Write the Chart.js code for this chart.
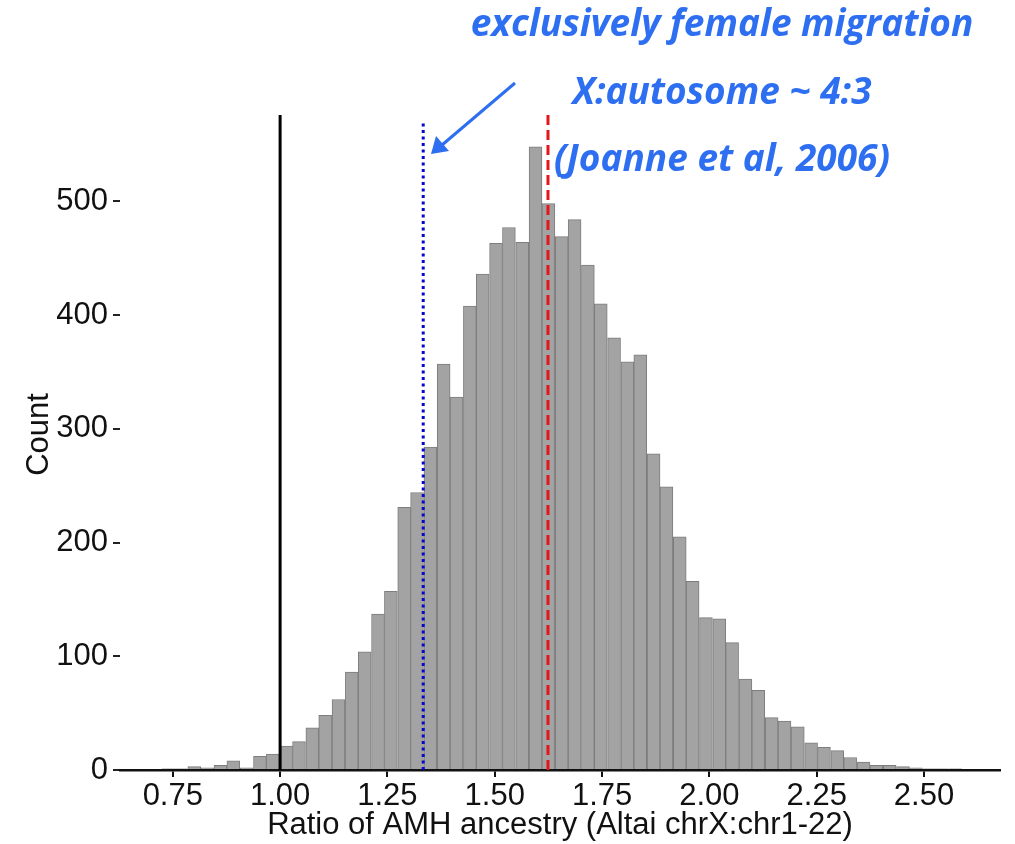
<!DOCTYPE html>
<html>
<head>
<meta charset="utf-8">
<script src="https://cdn.jsdelivr.net/npm/chart.js@4/dist/chart.umd.min.js"></script>
<style>
  html, body { margin: 0; padding: 0; background: #fff; }
  #wrap { width: 1015px; height: 844px; }
</style>
</head>
<body>
<div id="wrap"><canvas id="hist" width="1015" height="844"></canvas></div>
<script>
// histogram bin centres (bin width ~0.0306)
var binCenters = [
	0.739, 0.769, 0.800, 0.830, 0.861, 0.891, 0.922, 0.953, 0.983,
	1.014, 1.044, 1.075, 1.105, 1.136, 1.167, 1.197, 1.228, 1.258, 1.289, 1.319,
	1.350, 1.381, 1.411, 1.442, 1.472, 1.503, 1.533, 1.564, 1.595, 1.625,
	1.656, 1.686, 1.717, 1.747, 1.778, 1.809, 1.839, 1.870, 1.900, 1.931,
	1.961, 1.992, 2.023, 2.053, 2.084, 2.114, 2.145, 2.175, 2.206, 2.237,
	2.267, 2.298, 2.328, 2.359, 2.389, 2.420, 2.451, 2.481, 2.512, 2.542, 2.573
];
var counts = [
	1, 1, 3, 2, 4, 8, 2, 12, 14,
	21, 25, 37, 48, 62, 86, 104, 137, 157, 231, 244,
	284, 357, 328, 408, 436, 463, 477, 464, 548, 498,
	469, 484, 444, 410, 380, 359, 365, 278, 249, 205,
	166, 134, 133, 112, 80, 70, 46, 43, 38, 24,
	20, 17, 11, 7, 4, 4, 3, 2, 1, 1, 1
];
var xTicks = [0.75, 1.00, 1.25, 1.50, 1.75, 2.00, 2.25, 2.50];
var yTicks = [0, 100, 200, 300, 400, 500];

// reference lines: x position and top of line (in counts)
var neutralRatio = 1.0, neutralTop = 576;
var femaleRatio = 4 / 3, femaleTop = 571;
var observedRatio = 1.624, observedTop = 576;

var noteLines = ["exclusively female migration", "X:autosome ~ 4:3", "(Joanne et al, 2006)"];

function vline(x, top)
{
	return [{x: x, y: 0}, {x: x, y: top}];
}

var notesPlugin = {
	id: 'notes',
	afterDraw: function(chart) {
		var ctx = chart.ctx;
		ctx.save();
		ctx.fillStyle = '#2d6ff0';
		ctx.strokeStyle = '#2d6ff0';
		ctx.font = 'italic bold 37px "Open Sans"';
		ctx.textAlign = 'center';
		ctx.textBaseline = 'middle';
		var ys = [25, 93, 160];
		for (var i = 0; i < noteLines.length; i++) {
			ctx.fillText(noteLines[i], 722, ys[i]);
		}
		// arrow
		ctx.lineWidth = 3;
		ctx.beginPath();
		ctx.moveTo(515, 83);
		ctx.lineTo(442, 145);
		ctx.stroke();
		ctx.beginPath();
		ctx.moveTo(431, 154);
		ctx.lineTo(436, 136);
		ctx.lineTo(449, 151);
		ctx.closePath();
		ctx.fill();
		ctx.restore();
	}
};

var histData = [];
for (var i = 0; i < binCenters.length; i++) {
	histData.push({x: binCenters[i], y: counts[i]});
}

var axisFont = { family: '"Liberation Sans", Arial', size: 31 };

new Chart(document.getElementById('hist'), {
	type: 'bar',
	data: {
		datasets: [{
			type: 'bar',
			data: histData,
			backgroundColor: '#a3a3a3',
			borderColor: '#7d7d7d',
			borderWidth: 1,
			barPercentage: 1,
			categoryPercentage: 1,
			order: 2
		}, {
			type: 'line',
			data: vline(neutralRatio, neutralTop),
			borderColor: '#000000',
			borderWidth: 3,
			pointRadius: 0,
			order: 0
		}, {
			type: 'line',
			data: vline(femaleRatio, femaleTop),
			borderColor: '#0707c8',
			borderWidth: 3,
			borderDash: [3, 3.5],
			pointRadius: 0,
			order: 0
		}, {
			type: 'line',
			data: vline(observedRatio, observedTop),
			borderColor: '#e3161c',
			borderWidth: 3,
			borderDash: [10, 5],
			pointRadius: 0,
			order: 0
		}]
	},
	options: {
		responsive: false,
		animation: false,
		maintainAspectRatio: false,
		layout: { padding: { top: 99, right: 15, left: 0, bottom: 0 } },
		plugins: {
			legend: { display: false },
			tooltip: { enabled: false }
		},
		scales: {
			x: {
				type: 'linear',
				offset: false,
				min: 0.627,
				max: 2.677,
				afterBuildTicks: function(scale) {
					scale.ticks = xTicks.map(function(v) { return {value: v}; });
				},
				afterFit: function(scale) { scale.height = 74; },
				ticks: {
					callback: function(v) { return v.toFixed(2); },
					font: axisFont,
					color: '#111',
					padding: 1,
					maxRotation: 0,
					autoSkip: false
				},
				grid: {
					offset: false,
					drawOnChartArea: false,
					drawTicks: true,
					tickLength: 7,
					color: '#111',
					lineWidth: 2
				},
				border: { display: true, color: '#111', width: 2.5 },
				title: {
					display: true,
					text: 'Ratio of AMH ancestry (Altai chrX:chr1-22)',
					font: axisFont,
					color: '#111',
					padding: { top: 0, bottom: 0 }
				}
			},
			y: {
				min: 0,
				max: 590,
				afterBuildTicks: function(scale) {
					scale.ticks = yTicks.map(function(v) { return {value: v}; });
				},
				afterFit: function(scale) { scale.width = 120; },
				ticks: {
					font: axisFont,
					color: '#111',
					padding: 5
				},
				grid: {
					drawOnChartArea: false,
					drawTicks: true,
					tickLength: 7,
					color: '#222',
					lineWidth: 2
				},
				border: { display: false },
				title: {
					display: true,
					text: 'Count',
					font: axisFont,
					color: '#111',
					padding: { top: 21, bottom: 0 }
				}
			}
		}
	},
	plugins: [notesPlugin]
});
</script>
</body>
</html>
